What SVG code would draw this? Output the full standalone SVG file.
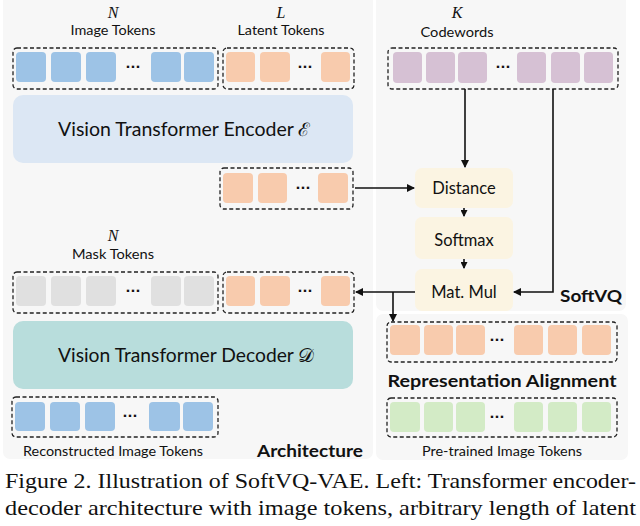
<svg xmlns="http://www.w3.org/2000/svg" width="640" height="526" viewBox="0 0 640 526">
<style>
.panel{fill:#f7f7f7}
.dash{fill:none;stroke:#222;stroke-width:1.3;stroke-dasharray:4 2.5}
.tb{fill:#9dc3e6}
.to{fill:#f8cbad}
.tp{fill:#d6c1d4}
.tg{fill:#e0e0e0}
.tgr{fill:#d3ebc6}
.op{fill:#fbf4e2}
.lbl{font-family:Lato,"Liberation Sans",sans-serif;font-size:14px;fill:#111;text-anchor:middle}
.var{font-family:"Liberation Serif",serif;font-style:italic;font-size:16px;fill:#111;text-anchor:middle}
.big{font-family:Lato,"Liberation Sans",sans-serif;font-size:18.5px;fill:#111;text-anchor:middle}
.opt{font-family:Lato,"Liberation Sans",sans-serif;font-size:16.5px;fill:#111;text-anchor:middle}
.bold{font-family:Lato,"Liberation Sans",sans-serif;font-weight:bold;font-size:17px;fill:#111;text-anchor:middle}
.dots{font-family:"DejaVu Sans",sans-serif;font-size:13px;font-weight:bold;fill:#111;text-anchor:middle}
.cap{font-family:"Liberation Serif",serif;font-size:21px;fill:#111}
.ln{fill:none;stroke:#111;stroke-width:1.6}
</style>
<defs>
<marker id="ah" markerWidth="8" markerHeight="8" refX="7" refY="4" orient="auto" markerUnits="userSpaceOnUse">
<path d="M0,0 L8,4 L0,8 z" fill="#111"/>
</marker>
<marker id="ahs" markerWidth="7" markerHeight="7" refX="6" refY="3.5" orient="auto" markerUnits="userSpaceOnUse">
<path d="M0,0 L7,3.5 L0,7 z" fill="#111"/>
</marker>
</defs>
<rect width="640" height="526" fill="#fff"/>
<g id="panels">
<rect class="panel" x="3" y="-6" width="370" height="465" rx="7"/>
<rect class="panel" x="376" y="-6" width="250" height="317" rx="7"/>
<rect class="panel" x="376" y="314" width="252" height="146" rx="7"/>
</g>

<g id="image-tokens">
<text class="var" x="113" y="18">N</text>
<text class="lbl" x="113" y="35" textLength="85" lengthAdjust="spacingAndGlyphs">Image Tokens</text>
<rect class="dash" x="13" y="48" width="205" height="41" rx="4"/>
<rect class="tb" x="16" y="52" width="30" height="30" rx="4"/>
<rect class="tb" x="51" y="52" width="30" height="30" rx="4"/>
<rect class="tb" x="86" y="52" width="30" height="30" rx="4"/>
<text class="dots" x="133" y="71">···</text>
<rect class="tb" x="151" y="52" width="30" height="30" rx="4"/>
<rect class="tb" x="184" y="52" width="30" height="30" rx="4"/>
</g>

<g id="latent-tokens">
<text class="var" x="281" y="18">L</text>
<text class="lbl" x="281" y="35" textLength="87" lengthAdjust="spacingAndGlyphs">Latent Tokens</text>
<rect class="dash" x="223" y="48" width="131" height="41" rx="4"/>
<rect class="to" x="226" y="52" width="29" height="30" rx="4"/>
<rect class="to" x="260" y="52" width="30" height="30" rx="4"/>
<text class="dots" x="305" y="71">···</text>
<rect class="to" x="321" y="52" width="29" height="30" rx="4"/>
</g>

<g id="encoder">
<rect x="13" y="95" width="340" height="68" rx="10" fill="#dce7f4"/>
<text class="big" x="184" y="136" textLength="252" lengthAdjust="spacingAndGlyphs">Vision Transformer Encoder ℰ</text>
</g>

<g id="encoded-latents">
<rect class="dash" x="220" y="168" width="133" height="41" rx="4"/>
<rect class="to" x="223" y="173" width="30" height="30" rx="4"/>
<rect class="to" x="258" y="173" width="29" height="30" rx="4"/>
<text class="dots" x="303" y="192">···</text>
<rect class="to" x="318" y="173" width="30" height="30" rx="4"/>
</g>

<g id="mask-tokens">
<text class="var" x="113" y="241">N</text>
<text class="lbl" x="113" y="259" textLength="82" lengthAdjust="spacingAndGlyphs">Mask Tokens</text>
<rect class="dash" x="13" y="272" width="205" height="41" rx="4"/>
<rect class="tg" x="16" y="276" width="30" height="30" rx="4"/>
<rect class="tg" x="51" y="276" width="30" height="30" rx="4"/>
<rect class="tg" x="86" y="276" width="30" height="30" rx="4"/>
<text class="dots" x="133" y="295">···</text>
<rect class="tg" x="151" y="276" width="30" height="30" rx="4"/>
<rect class="tg" x="184" y="276" width="30" height="30" rx="4"/>
</g>

<g id="quantized-latents">
<rect class="dash" x="223" y="272" width="131" height="41" rx="4"/>
<rect class="to" x="226" y="276" width="29" height="30" rx="4"/>
<rect class="to" x="260" y="276" width="30" height="30" rx="4"/>
<text class="dots" x="305" y="295">···</text>
<rect class="to" x="321" y="276" width="29" height="30" rx="4"/>
</g>

<g id="decoder">
<rect x="13" y="321" width="340" height="68" rx="10" fill="#b8dddc"/>
<text class="big" x="186" y="362" textLength="256" lengthAdjust="spacingAndGlyphs">Vision Transformer Decoder 𝒟</text>
</g>

<g id="reconstructed-tokens">
<rect class="dash" x="12" y="397" width="206" height="40" rx="4"/>
<rect class="tb" x="15" y="402" width="30" height="29" rx="4"/>
<rect class="tb" x="50" y="402" width="30" height="29" rx="4"/>
<rect class="tb" x="85" y="402" width="30" height="29" rx="4"/>
<text class="dots" x="130" y="420">···</text>
<rect class="tb" x="149" y="402" width="31" height="29" rx="4"/>
<rect class="tb" x="183" y="402" width="30" height="29" rx="4"/>
<text class="lbl" x="113" y="456" font-size="13" textLength="180" lengthAdjust="spacingAndGlyphs">Reconstructed Image Tokens</text>
</g>

<g id="architecture-label">
<text class="bold" x="310" y="457" textLength="106" lengthAdjust="spacingAndGlyphs">Architecture</text>
</g>

<g id="codewords">
<text class="var" x="457" y="18">K</text>
<text class="lbl" x="457" y="37" textLength="73" lengthAdjust="spacingAndGlyphs">Codewords</text>
<rect class="dash" x="388" y="48" width="230" height="41" rx="4"/>
<rect class="tp" x="393" y="52" width="29" height="31" rx="4"/>
<rect class="tp" x="426" y="52" width="29" height="31" rx="4"/>
<rect class="tp" x="458" y="52" width="29" height="31" rx="4"/>
<text class="dots" x="503" y="71">···</text>
<rect class="tp" x="517" y="52" width="29" height="31" rx="4"/>
<rect class="tp" x="551" y="52" width="29" height="31" rx="4"/>
<rect class="tp" x="584" y="52" width="29" height="31" rx="4"/>
</g>

<g id="distance">
<rect class="op" x="415" y="168" width="98" height="40" rx="7"/>
<text class="opt" x="464" y="194">Distance</text>
</g>
<g id="softmax">
<rect class="op" x="415" y="217" width="98" height="42" rx="7"/>
<text class="opt" x="464" y="246">Softmax</text>
</g>
<g id="matmul">
<rect class="op" x="415" y="269" width="98" height="42" rx="7"/>
<text class="opt" x="464" y="298">Mat. Mul</text>
</g>
<g id="softvq-label">
<text class="bold" x="591" y="302" textLength="62" lengthAdjust="spacingAndGlyphs">SoftVQ</text>
</g>

<g id="aligned-latents">
<rect class="dash" x="387" y="322" width="230" height="40" rx="4"/>
<rect class="to" x="390" y="325" width="30" height="30" rx="4"/>
<rect class="to" x="424" y="325" width="29" height="30" rx="4"/>
<rect class="to" x="456" y="325" width="29" height="30" rx="4"/>
<text class="dots" x="497" y="344">···</text>
<rect class="to" x="514" y="325" width="29" height="30" rx="4"/>
<rect class="to" x="548" y="325" width="29" height="30" rx="4"/>
<rect class="to" x="582" y="325" width="29" height="30" rx="4"/>
</g>
<g id="alignment-label">
<text class="bold" x="502" y="387" textLength="229" lengthAdjust="spacingAndGlyphs">Representation Alignment</text>
</g>
<g id="pretrained-tokens">
<rect class="dash" x="387" y="398" width="230" height="39" rx="4"/>
<rect class="tgr" x="390" y="402" width="30" height="30" rx="4"/>
<rect class="tgr" x="424" y="402" width="29" height="30" rx="4"/>
<rect class="tgr" x="456" y="402" width="29" height="30" rx="4"/>
<text class="dots" x="497" y="421">···</text>
<rect class="tgr" x="514" y="402" width="29" height="30" rx="4"/>
<rect class="tgr" x="548" y="402" width="29" height="30" rx="4"/>
<rect class="tgr" x="582" y="402" width="29" height="30" rx="4"/>
<text class="lbl" x="502" y="456" font-size="13" textLength="160" lengthAdjust="spacingAndGlyphs">Pre-trained Image Tokens</text>
</g>

<g id="connectors">
<line class="ln" x1="355" y1="188" x2="414" y2="188" marker-end="url(#ah)"/>
<line class="ln" x1="465" y1="89" x2="465" y2="167" marker-end="url(#ah)"/>
<polyline class="ln" points="553,89 553,292 514,292" marker-end="url(#ah)"/>
<line class="ln" x1="464" y1="208" x2="464" y2="216" marker-end="url(#ahs)"/>
<line class="ln" x1="464" y1="259" x2="464" y2="268" marker-end="url(#ahs)"/>
<line class="ln" x1="415" y1="292" x2="356" y2="292" marker-end="url(#ah)"/>
<line class="ln" x1="393" y1="292" x2="393" y2="321" marker-end="url(#ah)"/>
</g>

<g id="caption">
<text class="cap" x="5" y="488" textLength="631" lengthAdjust="spacingAndGlyphs">Figure 2. Illustration of SoftVQ-VAE. Left: Transformer encoder-</text>
<text class="cap" x="5" y="515" textLength="631" lengthAdjust="spacingAndGlyphs">decoder architecture with image tokens, arbitrary length of latent</text>
</g>
</svg>
